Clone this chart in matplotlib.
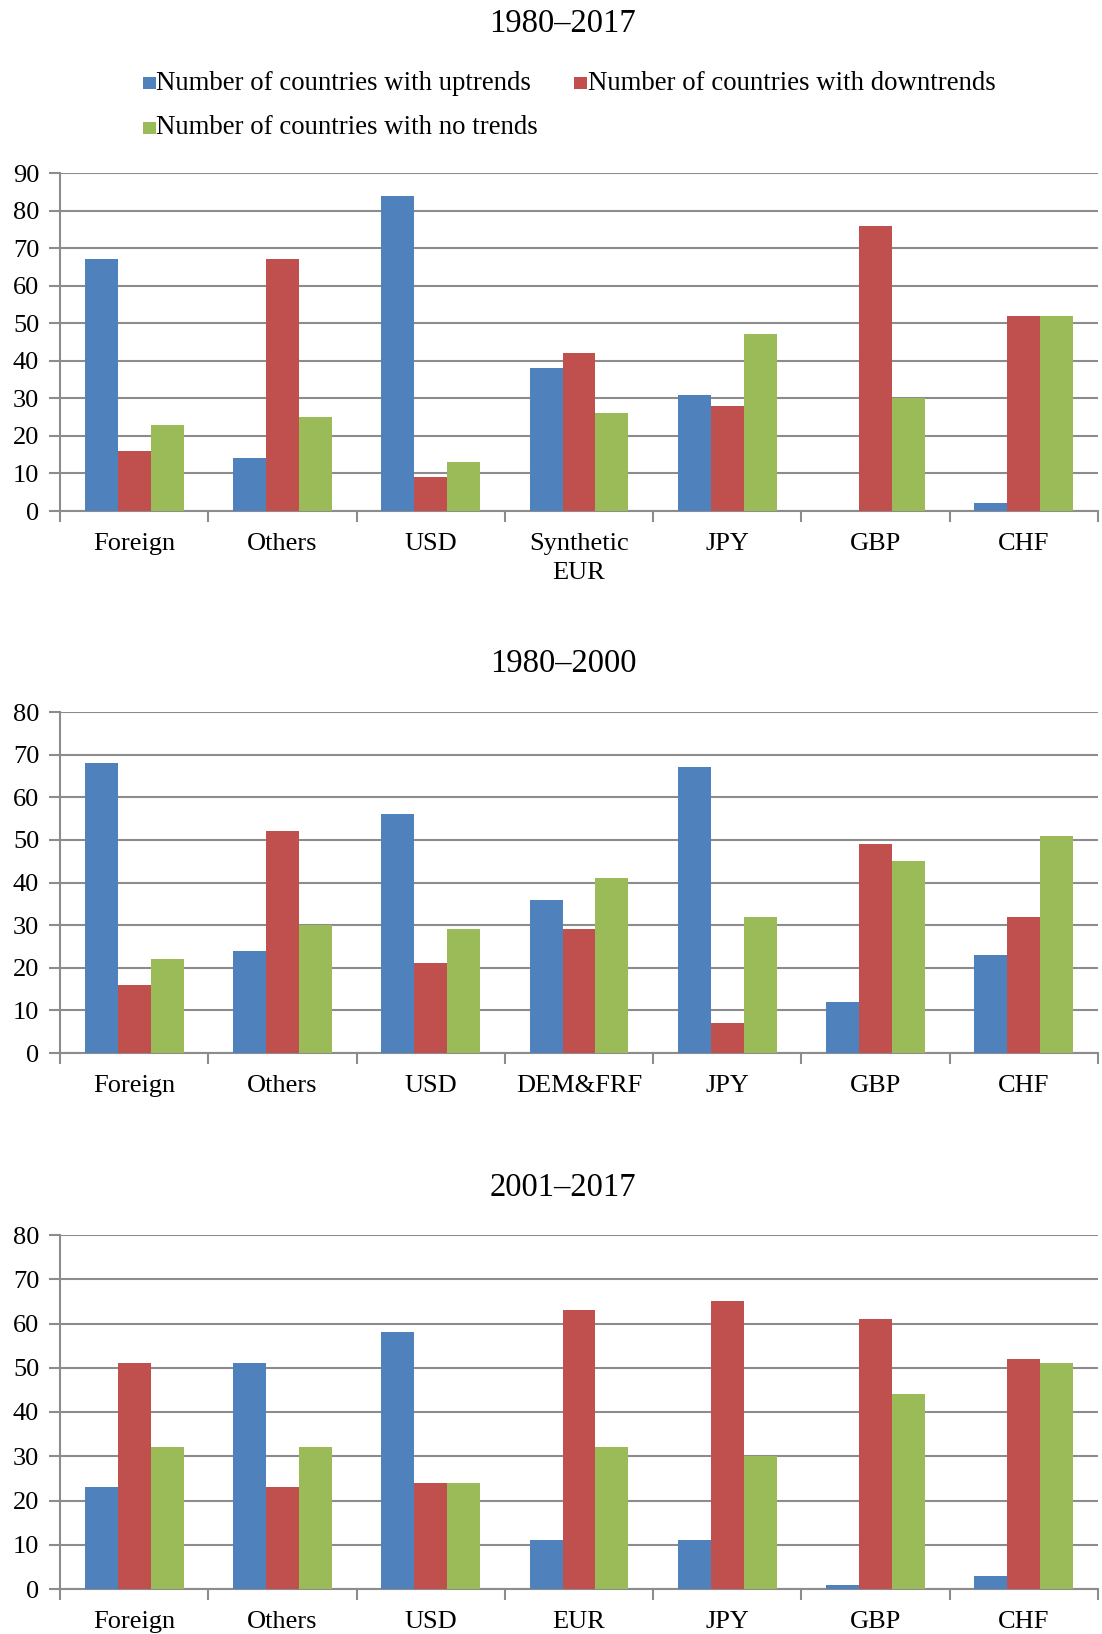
import matplotlib
matplotlib.use("Agg")
import matplotlib.pyplot as plt
from matplotlib.patches import Rectangle
import numpy as np

plt.rcParams['font.family'] = ['Liberation Serif', 'DejaVu Serif']

series_labels = ["Number of countries with uptrends",
                 "Number of countries with downtrends",
                 "Number of countries with no trends"]
colors = ["#4F81BD", "#C0504D", "#9BBB59"]

titles = ["1980\u20132017", "1980\u20132000", "2001\u20132017"]

cats_1 = ["Foreign", "Others", "USD", "Synthetic\nEUR", "JPY", "GBP", "CHF"]
up_1 = [67, 14, 84, 38, 31, 0, 2]
down_1 = [16, 67, 9, 42, 28, 76, 52]
none_1 = [23, 25, 13, 26, 47, 30, 52]

cats_2 = ["Foreign", "Others", "USD", "DEM&FRF", "JPY", "GBP", "CHF"]
up_2 = [68, 24, 56, 36, 67, 12, 23]
down_2 = [16, 52, 21, 29, 7, 49, 32]
none_2 = [22, 30, 29, 41, 32, 45, 51]

cats_3 = ["Foreign", "Others", "USD", "EUR", "JPY", "GBP", "CHF"]
up_3 = [23, 51, 58, 11, 11, 1, 3]
down_3 = [51, 23, 24, 63, 65, 61, 52]
none_3 = [32, 32, 24, 32, 30, 44, 51]

panels = [
    (cats_1, [up_1, down_1, none_1], 90),
    (cats_2, [up_2, down_2, none_2], 80),
    (cats_3, [up_3, down_3, none_3], 80),
]

W, H = 1102, 1634
fig = plt.figure(figsize=(W / 100, H / 100), dpi=100)

def fy(px):
    return 1 - px / H

def fx(px):
    return px / W

# axes pixel boxes (left, top, right, bottom)
boxes = [(60, 173, 1098, 511), (60, 712, 1098, 1053), (60, 1235, 1098, 1589)]
title_y = [24, 664, 1188]

grid_col = "#8C8C8C"
bw = 0.222
serif = ['Liberation Serif', 'DejaVu Serif']

for (cats, vals, ymax), (l, t, r, b), ty, title in zip(panels, boxes, title_y, titles):
    ax = fig.add_axes([fx(l), fy(b), fx(r) - fx(l), fy(t) - fy(b)])
    x = np.arange(len(cats))
    for k, (v, c) in enumerate(zip(vals, colors)):
        ax.bar(x + (k - 1) * bw, v, width=bw, color=c, edgecolor="none", zorder=3)
    ax.set_xlim(-0.5, len(cats) - 0.5)
    ax.set_ylim(0, ymax)
    ax.set_yticks(np.arange(0, ymax + 1, 10))
    ax.yaxis.grid(True, color=grid_col, linewidth=1.5, zorder=0)
    ax.set_axisbelow(True)
    for s in ["top", "right"]:
        ax.spines[s].set_visible(False)
    for s in ["left", "bottom"]:
        ax.spines[s].set_color(grid_col)
        ax.spines[s].set_linewidth(1.5)
    ax.set_xticks(x)
    ax.set_xticklabels(cats, fontsize=19)
    ax.set_xticks(np.arange(-0.5, len(cats)), minor=True)
    ax.tick_params(axis="x", which="major", length=0, pad=16)
    ax.tick_params(axis="x", which="minor", length=8, width=1.5, color=grid_col, direction="out")
    ax.tick_params(axis="y", length=8, width=1.5, color=grid_col, labelsize=19, pad=7)
    for lab in ax.get_xticklabels():
        lab.set_linespacing(1.4)
    fig.text(fx(563), fy(ty), title, ha="center", va="center", fontsize=23.5, family=serif)

# legend (manual)
leg_pos = [(143, 83), (574, 83), (143, 128)]
sq = 12.5
for (px, py), lab, c in zip(leg_pos, series_labels, colors):
    fig.patches.append(Rectangle((fx(px), fy(py + sq / 2)), sq / W, sq / H,
                                 transform=fig.transFigure, facecolor=c, edgecolor="none"))
    fig.text(fx(px + sq + 1), fy(py), lab, ha="left", va="center", fontsize=19.3, family=serif)

fig.savefig("out.png", dpi=100)
